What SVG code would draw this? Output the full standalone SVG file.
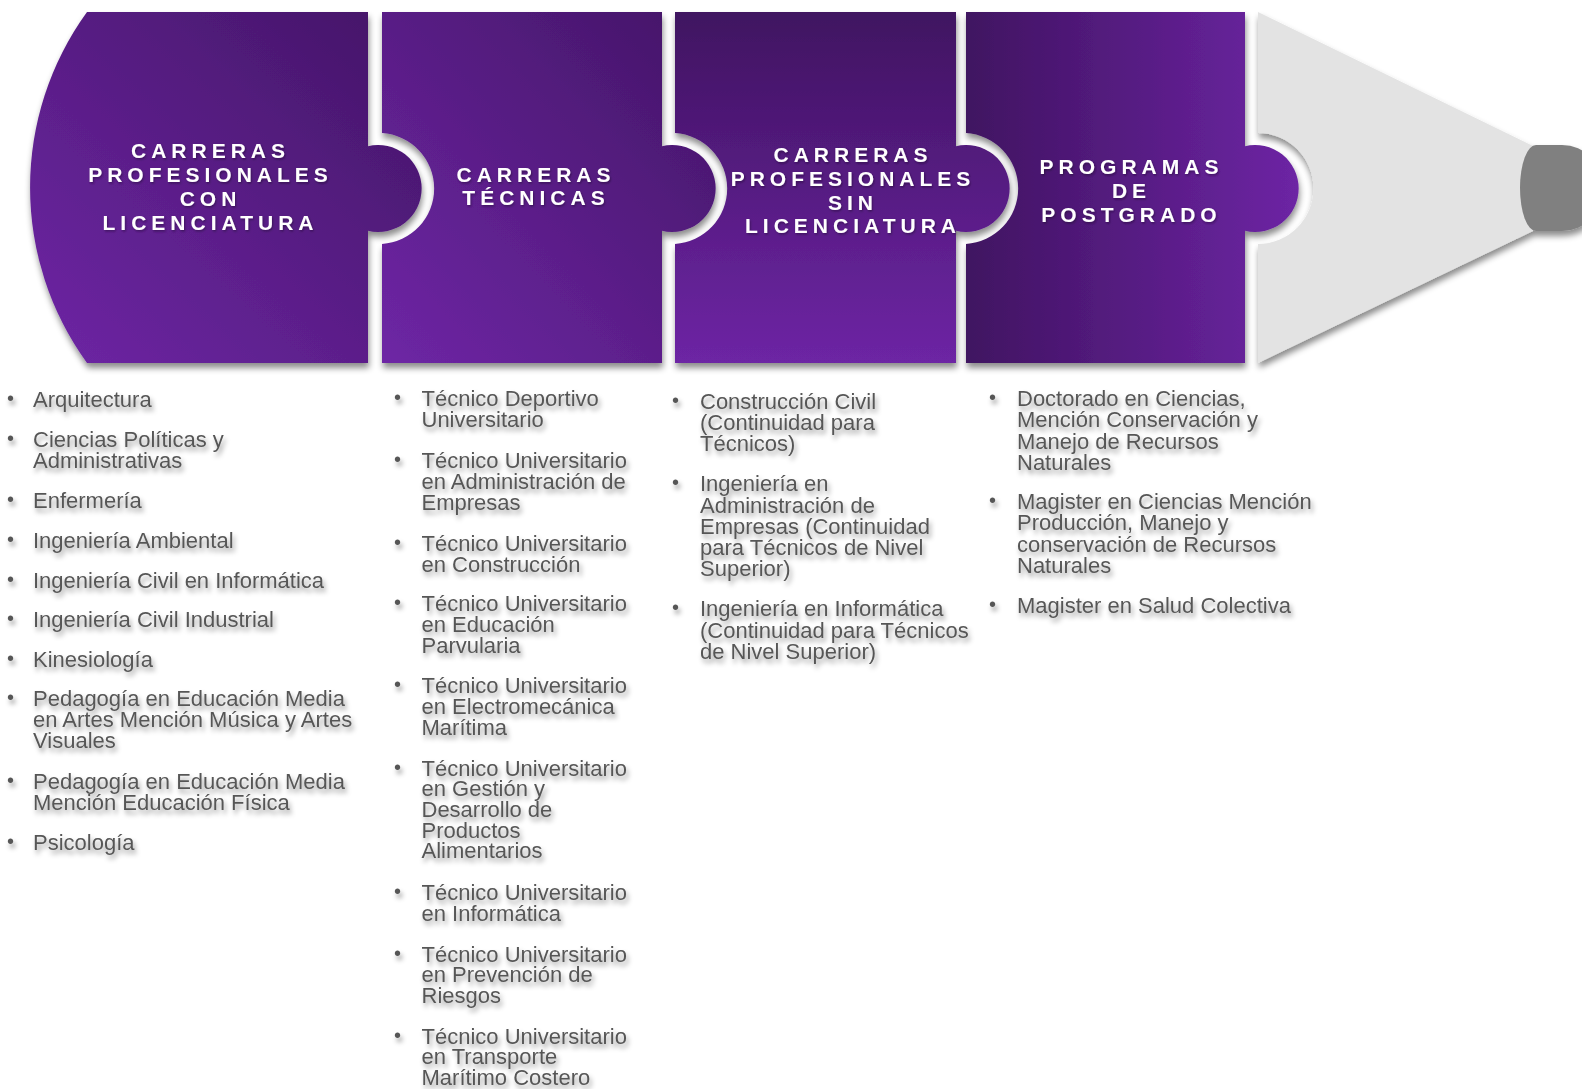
<svg xmlns="http://www.w3.org/2000/svg" width="1582" height="1089" viewBox="0 0 1582 1089">
<defs>
<linearGradient id="gDiag" x1="0" y1="1" x2="1" y2="0">
<stop offset="0" stop-color="#6e26a5"/><stop offset="1" stop-color="#431566"/>
</linearGradient>
<linearGradient id="gVert" x1="0" y1="0" x2="0" y2="1">
<stop offset="0" stop-color="#401361"/><stop offset="1" stop-color="#6d25a4"/>
</linearGradient>
<linearGradient id="gHorz" x1="0" y1="0" x2="1" y2="0">
<stop offset="0" stop-color="#401361"/><stop offset="1" stop-color="#6d25a4"/>
</linearGradient>
<filter id="shadow" x="-10%" y="-10%" width="130%" height="130%">
<feDropShadow dx="1" dy="5" stdDeviation="3" flood-color="#000" flood-opacity="0.45"/>
</filter>
<filter id="tshadow" x="-10%" y="-30%" width="130%" height="180%">
<feDropShadow dx="2" dy="4" stdDeviation="2.8" flood-color="#000" flood-opacity="0.4"/>
</filter>
<filter id="hshadow" x="-10%" y="-30%" width="130%" height="180%">
<feDropShadow dx="1" dy="1.5" stdDeviation="1" flood-color="#000" flood-opacity="0.35"/>
</filter>
</defs>
<style>
.hd{font-family:"Liberation Sans",Arial,sans-serif;font-weight:bold;font-size:21px;fill:#ffffff;letter-spacing:5px;text-anchor:middle}
.li{font-family:"Liberation Sans",Arial,sans-serif;font-size:22px;fill:#575757}
.bu{font-family:"Liberation Sans",Arial,sans-serif;font-size:20px;fill:#575757}
</style>
<rect width="1582" height="1089" fill="#ffffff"/>

<g id="cone" filter="url(#shadow)">
<path d="M1258,12 L1533,146 L1533,231 L1258,363 V244 A55.5,55.5 0 0 0 1258,133 Z" fill="#e3e3e3"/>
<path d="M1536,145 H1562 A42,43 0 0 1 1562,231 H1536 A16,43 0 0 1 1536,145 Z" fill="#808080"/>
</g>

<g id="panel1" filter="url(#shadow)">
<path d="M87,12 H368 V146.2 A43.5,43.5 0 1 1 368,230.8 V363 H87 A299,299 0 0 1 87,12 Z" fill="url(#gDiag)"/>
<text class="hd" filter="url(#hshadow)"><tspan x="210.5" y="158">CARRERAS</tspan><tspan x="210.5" y="182">PROFESIONALES</tspan><tspan x="210.5" y="206">CON</tspan><tspan x="210.5" y="230">LICENCIATURA</tspan></text>
</g>

<g id="panel2" filter="url(#shadow)">
<path d="M382,12 H662 V146.2 A43.5,43.5 0 1 1 662,230.8 V363 H382 V243.9 A55.5,55.5 0 0 0 382,133.1 Z" fill="url(#gDiag)"/>
<text class="hd" filter="url(#hshadow)"><tspan x="536" y="182">CARRERAS</tspan><tspan x="536" y="205">TÉCNICAS</tspan></text>
</g>

<g id="panel3" filter="url(#shadow)">
<path d="M675,12 H956 V146.2 A43.5,43.5 0 1 1 956,230.8 V363 H675 V243.9 A55.5,55.5 0 0 0 675,133.1 Z" fill="url(#gVert)"/>
<text class="hd" filter="url(#hshadow)"><tspan x="853" y="161.5">CARRERAS</tspan><tspan x="853" y="185.5">PROFESIONALES</tspan><tspan x="853" y="209.5">SIN</tspan><tspan x="853" y="233">LICENCIATURA</tspan></text>
</g>

<g id="panel4" filter="url(#shadow)">
<path d="M966,12 H1245 V146.2 A43.5,43.5 0 1 1 1245,230.8 V363 H966 V243.9 A55.5,55.5 0 0 0 966,133.1 Z" fill="url(#gHorz)"/>
<text class="hd" filter="url(#hshadow)"><tspan x="1131.5" y="174">PROGRAMAS</tspan><tspan x="1131.5" y="197.5">DE</tspan><tspan x="1131.5" y="221.5">POSTGRADO</tspan></text>
</g>

<g id="connectors"></g>

<g id="list1" filter="url(#tshadow)">
<text class="bu" x="7" y="405">•</text><text class="li" x="33" y="406.6">Arquitectura</text>
<text class="bu" x="7" y="445">•</text><text class="li"><tspan x="33" y="446.8">Ciencias Políticas y</tspan><tspan x="33" y="467.6">Administrativas</tspan></text>
<text class="bu" x="7" y="506">•</text><text class="li" x="33" y="507.6">Enfermería</text>
<text class="bu" x="7" y="546">•</text><text class="li" x="33" y="547.7">Ingeniería Ambiental</text>
<text class="bu" x="7" y="586">•</text><text class="li" x="33" y="587.7">Ingeniería Civil en Informática</text>
<text class="bu" x="7" y="625">•</text><text class="li" x="33" y="626.6">Ingeniería Civil Industrial</text>
<text class="bu" x="7" y="665">•</text><text class="li" x="33" y="666.8">Kinesiología</text>
<text class="bu" x="7" y="704">•</text><text class="li"><tspan x="33" y="706.1">Pedagogía en Educación Media</tspan><tspan x="33" y="727.2">en Artes Mención Música y Artes</tspan><tspan x="33" y="748.3">Visuales</tspan></text>
<text class="bu" x="7" y="787">•</text><text class="li"><tspan x="33" y="788.6">Pedagogía en Educación Media</tspan><tspan x="33" y="809.5">Mención Educación Física</tspan></text>
<text class="bu" x="7" y="848">•</text><text class="li" x="33" y="849.9">Psicología</text>
</g>

<g id="list2" filter="url(#tshadow)">
<text class="bu" x="394" y="404">•</text><text class="li"><tspan x="421.5" y="406">Técnico Deportivo</tspan><tspan x="421.5" y="427">Universitario</tspan></text>
<text class="bu" x="394" y="465.5">•</text><text class="li"><tspan x="421.5" y="467.5">Técnico Universitario</tspan><tspan x="421.5" y="488.5">en Administración de</tspan><tspan x="421.5" y="509.5">Empresas</tspan></text>
<text class="bu" x="394" y="548.5">•</text><text class="li"><tspan x="421.5" y="550.5">Técnico Universitario</tspan><tspan x="421.5" y="571.5">en Construcción</tspan></text>
<text class="bu" x="394" y="609">•</text><text class="li"><tspan x="421.5" y="611">Técnico Universitario</tspan><tspan x="421.5" y="632">en Educación</tspan><tspan x="421.5" y="653">Parvularia</tspan></text>
<text class="bu" x="394" y="691.3">•</text><text class="li"><tspan x="421.5" y="693.3">Técnico Universitario</tspan><tspan x="421.5" y="714.3">en Electromecánica</tspan><tspan x="421.5" y="735.3">Marítima</tspan></text>
<text class="bu" x="394" y="773.5">•</text><text class="li"><tspan x="421.5" y="775.5">Técnico Universitario</tspan><tspan x="421.5" y="796.2">en Gestión y</tspan><tspan x="421.5" y="816.9">Desarrollo de</tspan><tspan x="421.5" y="837.6">Productos</tspan><tspan x="421.5" y="858.3">Alimentarios</tspan></text>
<text class="bu" x="394" y="897.7">•</text><text class="li"><tspan x="421.5" y="899.7">Técnico Universitario</tspan><tspan x="421.5" y="920.7">en Informática</tspan></text>
<text class="bu" x="394" y="959.5">•</text><text class="li"><tspan x="421.5" y="961.5">Técnico Universitario</tspan><tspan x="421.5" y="982.3">en Prevención de</tspan><tspan x="421.5" y="1003.1">Riesgos</tspan></text>
<text class="bu" x="394" y="1041.5">•</text><text class="li"><tspan x="421.5" y="1043.5">Técnico Universitario</tspan><tspan x="421.5" y="1064.2">en Transporte</tspan><tspan x="421.5" y="1084.9">Marítimo Costero</tspan></text>
</g>

<g id="list3" filter="url(#tshadow)">
<text class="bu" x="672" y="406.5">•</text><text class="li"><tspan x="700" y="408.5">Construcción Civil</tspan><tspan x="700" y="429.6">(Continuidad para</tspan><tspan x="700" y="450.6">Técnicos)</tspan></text>
<text class="bu" x="672" y="489.3">•</text><text class="li"><tspan x="700" y="491.3">Ingeniería en</tspan><tspan x="700" y="512.5">Administración de</tspan><tspan x="700" y="533.7">Empresas (Continuidad</tspan><tspan x="700" y="554.9">para Técnicos de Nivel</tspan><tspan x="700" y="576">Superior)</tspan></text>
<text class="bu" x="672" y="614.4">•</text><text class="li"><tspan x="700" y="616.4">Ingeniería en Informática</tspan><tspan x="700" y="637.6">(Continuidad para Técnicos</tspan><tspan x="700" y="658.8">de Nivel Superior)</tspan></text>
</g>

<g id="list4" filter="url(#tshadow)">
<text class="bu" x="989" y="404">•</text><text class="li"><tspan x="1017" y="406">Doctorado en Ciencias,</tspan><tspan x="1017" y="427">Mención Conservación y</tspan><tspan x="1017" y="448.5">Manejo de Recursos</tspan><tspan x="1017" y="469.7">Naturales</tspan></text>
<text class="bu" x="989" y="507">•</text><text class="li"><tspan x="1017" y="509">Magister en Ciencias Mención</tspan><tspan x="1017" y="530.3">Producción, Manejo y</tspan><tspan x="1017" y="552.2">conservación de Recursos</tspan><tspan x="1017" y="573.3">Naturales</tspan></text>
<text class="bu" x="989" y="610.5">•</text><text class="li"><tspan x="1017" y="612.5">Magister en Salud Colectiva</tspan></text>
</g>
</svg>
